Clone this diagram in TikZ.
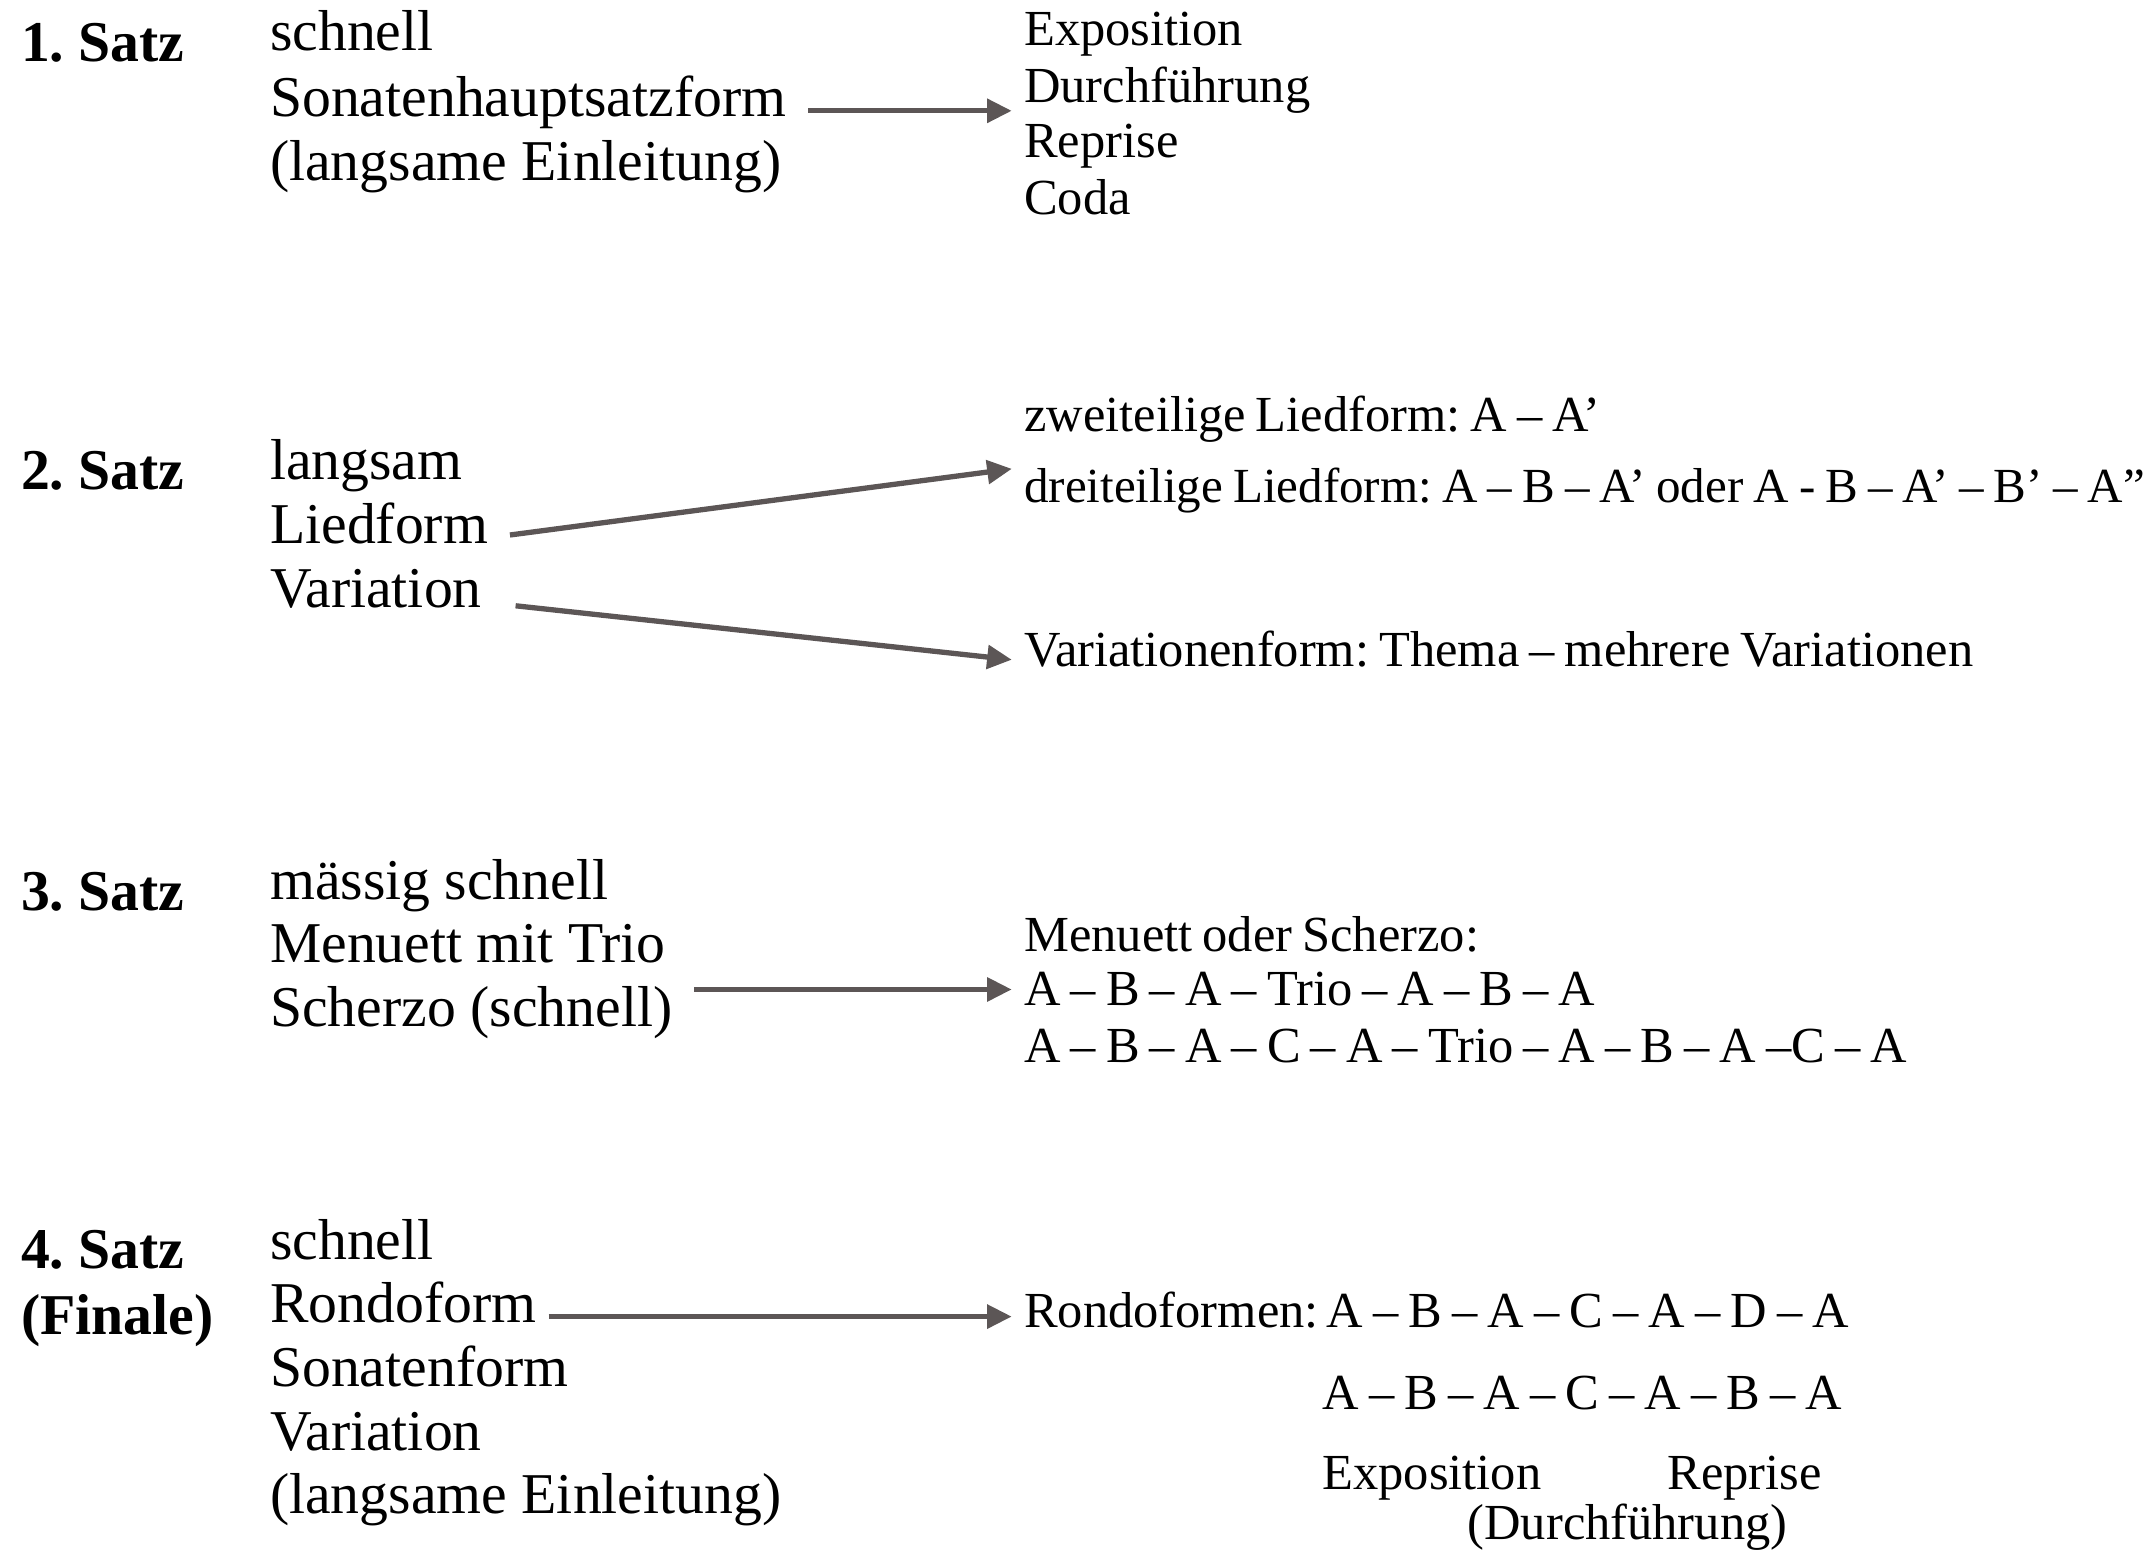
\documentclass[tikz,border=0pt]{standalone}
\usepackage{fontspec}
\setmainfont{Liberation Serif}
\usetikzlibrary{positioning,arrows.meta}
\definecolor{pfeilgrau}{RGB}{92,86,86}
\frenchspacing
\newcommand\teilschrift{\fontsize{21}{25}\selectfont
  \spaceskip=0.2em plus 0.1em minus 0.05em\relax}

\begin{document}
\begin{tikzpicture}[x=0.02cm, y=-0.02cm]
% STYLES
\tikzset{%
    satz/.style={anchor=base west, inner sep=0pt,
        font=\fontsize{24}{28}\selectfont\bfseries},
    tempo/.style={anchor=base west, inner sep=0pt,
        font=\fontsize{24}{28}\selectfont},
    teil/.style={anchor=base west, inner sep=0pt,
        font=\teilschrift},
    pfeil/.style={draw=pfeilgrau, line width=2.2pt,
        -{Triangle[length=0.36cm, width=0.34cm]},
        shorten <=9pt, shorten >=5pt}
}
\useasboundingbox (0,0) rectangle (1568,1135);

% 1. Satz
\node [satz] (satzeins) at (15,45) {1. Satz};
\node [tempo] (schnelleins) at (197,37) {schnell};
\node [tempo] (sonate) at (197,85) {Sonatenhauptsatzform};
\node [tempo] (einleitungeins) at (197,132) {(langsame Einleitung)};
\node [teil] (expo) at (748,33) {Exposition};
\node [teil] (durch) at (748,75) {Durchführung};
\node [teil] (repr) at (748,115) {Reprise};
\node [teil] (coda) at (748,157) {Coda};

% 2. Satz
\node [satz] (satzzwei) at (15,358) {2. Satz};
\node [tempo] (langsam) at (197,350) {langsam};
\node [tempo] (liedform) at (197,397) {Liedform};
\node [tempo] (variationzwei) at (197,444) {Variation};
\node [teil] (zweiteilig) at (748,315) {zweiteilige Liedform: A – A’};
\node [teil, font=\teilschrift\fontsize{20.4}{25}\selectfont] (dreiteilig) at (748,367)
    {dreiteilige Liedform: A – B – A’ oder A - B – A’ – B’ – A”};
\node [teil] (varform) at (748,487) {Variationenform: Thema – mehrere Variationen};

% 3. Satz
\node [satz] (satzdrei) at (15,665) {3. Satz};
\node [tempo] (maessig) at (197,657) {mässig schnell};
\node [tempo] (menuett) at (197,703) {Menuett mit Trio};
\node [tempo] (scherzo) at (197,750) {Scherzo (schnell)};
\node [teil] (menscherz) at (748,695) {Menuett oder Scherzo:};
\node [teil] (abtrio) at (748,735) {A – B – A – Trio – A – B – A};
\node [teil] (abctrio) at (748,776) {A – B – A – C – A – Trio – A – B – A –C – A};

% 4. Satz
\node [satz] (satzvier) at (15,927) {4. Satz};
\node [satz] (finale) at (15,975) {(Finale)};
\node [tempo] (schnellvier) at (197,920) {schnell};
\node [tempo] (rondo) at (197,966) {Rondoform};
\node [tempo] (sonatenform) at (197,1013) {Sonatenform};
\node [tempo] (variationvier) at (197,1060) {Variation};
\node [tempo] (einleitungvier) at (197,1106) {(langsame Einleitung)};
\node [teil] (rondoformen) at (748,970) {Rondoformen:};
\node [teil, base right=3pt of rondoformen] (folgeeins) {A – B – A – C – A – D – A};
\node [teil] (folgezwei) at (966,1030) {A – B – A – C – A – B – A};
\node [teil] (expovier) at (966,1088) {Exposition};
\node [teil] (reprvier) at (1218,1088) {Reprise};
\node [teil] (durchvier) at (1072,1125) {(Durchführung)};

% Draw the arrows
\draw [pfeil] (sonate.mid east) -- (sonate.mid east -| durch.west);
\draw [pfeil] (liedform.mid east) -- (dreiteilig.north west);
\draw [pfeil, shorten <=14pt] (variationzwei.mid east) -- (varform.mid west);
\draw [pfeil] (scherzo.east |- abtrio.west) -- (abtrio.west);
\draw [pfeil, shorten <=5pt] (rondo.mid east) -- (rondo.mid east -| rondoformen.west);
\end{tikzpicture}
\end{document}
